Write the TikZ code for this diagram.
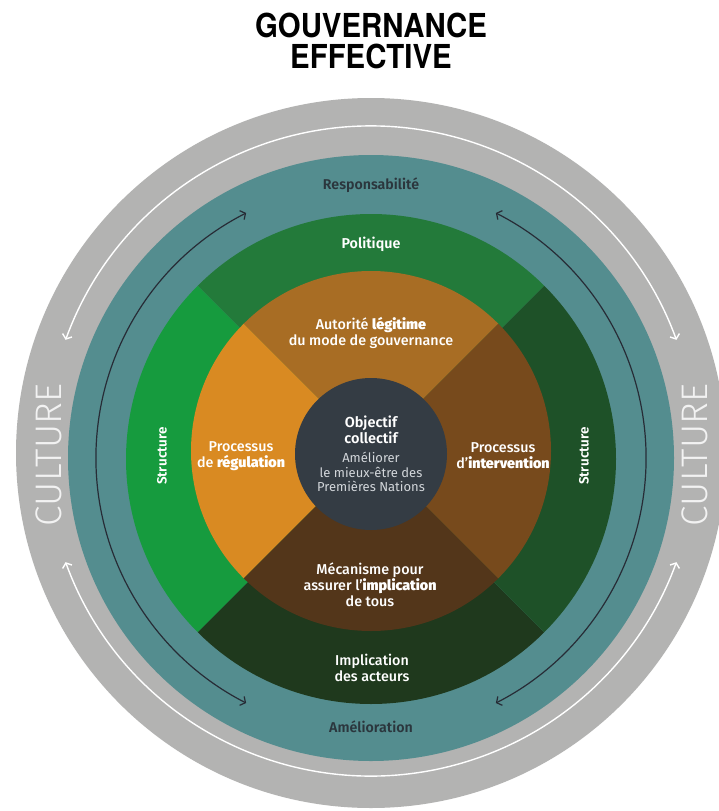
\documentclass[tikz,border=0pt]{standalone}
\usepackage{fontspec}
\setmainfont{Fira Sans}
\newfontfamily\medf{Fira Sans Medium}
\newfontfamily\semif{Fira Sans SemiBold}
\newfontfamily\heavyf{Fira Sans Black}
\newfontfamily\lightf{Fira Sans Light}
\newfontfamily\titlef{TeX Gyre Heros}
\usetikzlibrary{arrows.meta,calc}
\definecolor{cgray}{HTML}{B3B3B2}
\definecolor{cteal}{HTML}{548D8F}
\definecolor{gtop}{HTML}{237A3A}
\definecolor{gleft}{HTML}{169B3E}
\definecolor{gright}{HTML}{1E5128}
\definecolor{gbot}{HTML}{1F391D}
\definecolor{otop}{HTML}{A86D24}
\definecolor{oleft}{HTML}{D98A22}
\definecolor{oright}{HTML}{774A1C}
\definecolor{obot}{HTML}{53361A}
\definecolor{ccenter}{HTML}{343C44}
\definecolor{darktxt}{HTML}{2B363D}
\definecolor{darkline}{HTML}{272C36}
\definecolor{lighttxt}{HTML}{D2D6DA}
\definecolor{culturecol}{HTML}{F2F2F2}
\tikzset{
  lbl/.style={text=white, align=center, font=\medf\fontsize{14.3}{16}\selectfont},
  ringlbl/.style={text=darktxt, align=center, font=\semif\fontsize{14.2}{16}\selectfont},
  culture/.style={text=culturecol, rotate=90, font=\lightf\fontsize{37}{40}\selectfont},
  structlbl/.style={text=white, rotate=90, font=\semif\fontsize{13.5}{15}\selectfont},
  whitearrow/.style={draw=white, line width=1.4pt, {Straight Barb[length=4pt,width=10pt]}-{Straight Barb[length=4pt,width=10pt]}},
  darkarrow/.style={draw=darkline, line width=1.2pt, {Straight Barb[length=4pt,width=10pt]}-{Straight Barb[length=4pt,width=10pt]}},
}
\newcommand{\hv}[1]{{\heavyf #1}}
\begin{document}
\begin{tikzpicture}[x=1pt,y=1pt]
\useasboundingbox (0,0) rectangle (719,-811);
\fill[white] (0,0) rectangle (719,-811);
% outer gray ring
\coordinate (G) at (371,-453);
\fill[cgray] (G) circle[radius=355];
% white arcs
\coordinate (W) at (371,-451);
\draw[whitearrow] ($(W)+(160:325)$) arc[start angle=160, end angle=20, radius=325];
\draw[whitearrow] ($(W)+(200:325)$) arc[start angle=200, end angle=340, radius=325];
% teal ring
\coordinate (T) at (371,-458);
\fill[cteal] (T) circle[radius=303];
\draw[darkarrow] ($(T)+(117:275)$) arc[start angle=117, end angle=243, radius=275];
\draw[darkarrow] ($(T)+(63:275)$) arc[start angle=63, end angle=-63, radius=275];
% green ring
\coordinate (R) at (371,-459);
\fill[gtop] (R) -- ++(45:245) arc[start angle=45, end angle=135, radius=245] -- cycle;
\fill[gleft] (R) -- ++(135:245) arc[start angle=135, end angle=225, radius=245] -- cycle;
\fill[gbot] (R) -- ++(225:245) arc[start angle=225, end angle=315, radius=245] -- cycle;
\fill[gright] (R) -- ++(315:245) arc[start angle=315, end angle=405, radius=245] -- cycle;
% inner ring
\coordinate (I) at (371,-451);
\fill[otop] (I) -- ++(45:180) arc[start angle=45, end angle=135, radius=180] -- cycle;
\fill[oleft] (I) -- ++(135:180) arc[start angle=135, end angle=225, radius=180] -- cycle;
\fill[obot] (I) -- ++(225:180) arc[start angle=225, end angle=315, radius=180] -- cycle;
\fill[oright] (I) -- ++(315:180) arc[start angle=315, end angle=405, radius=180] -- cycle;
% center
\coordinate (C) at (371,-454);
\fill[ccenter] (C) circle[radius=76];
% title
\node[align=center, font=\titlef\bfseries\fontsize{33}{31}\selectfont, xscale=0.89] (title) at (371,-41) {GOUVERNANCE\\EFFECTIVE};
% labels
\node[culture] (cultL) at (49,-455) {CULTURE};
\node[culture] (cultR) at (695,-455) {CULTURE};
\node[ringlbl] (resp) at (371,-185) {Responsabilité};
\node[ringlbl] (amel) at (371,-727) {Amélioration};
\node[lbl, font=\semif\fontsize{14.3}{16}\selectfont] (pol) at (371,-244) {Politique};
\node[structlbl] (strL) at (162,-456) {Structure};
\node[structlbl] (strR) at (584,-456) {Structure};
\node[lbl] (impl) at (372,-668) {Implication\\des acteurs};
\node[lbl] (auto) at (371,-333) {Autorité \hv{légitime}\\du mode de gouvernance};
\node[lbl] (regu) at (241,-456) {Processus\\de \hv{régulation}};
\node[lbl] (inter) at (503,-456) {Processus\\d’\hv{intervention}};
\node[lbl] (meca) at (370,-585) {Mécanisme pour\\assurer l’\hv{implication}\\de tous};
\node[text=white, align=center, font=\semif\fontsize{14.5}{15.5}\selectfont] (obj) at (371,-430) {Objectif\\collectif};
\node[text=lighttxt, align=center, font=\fontsize{13}{14.8}\selectfont] (amelio) at (371,-472) {Améliorer\\le mieux-être des\\Premières Nations};
\end{tikzpicture}
\end{document}
